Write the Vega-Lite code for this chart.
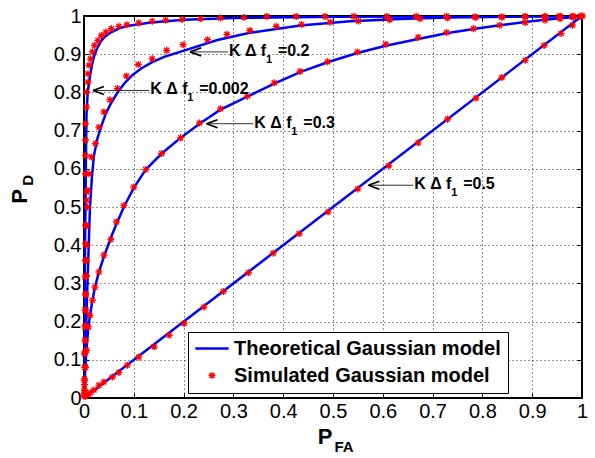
{
  "$schema": "https://vega.github.io/schema/vega-lite/v6.json",
  "width": 498,
  "height": 382,
  "autosize": "none",
  "padding": {"left": 84, "top": 16, "right": 13, "bottom": 60},
  "background": "white",
  "config": {
    "view": {"stroke": "black", "strokeWidth": 2},
    "font": "Liberation Sans"
  },
  "datasets": {
    "lines": [
      {"c": "0.002", "m": "Theoretical Gaussian model", "x": 0, "y": 0},
      {"c": "0.002", "m": "Theoretical Gaussian model", "x": 0.0005, "y": 0.1},
      {"c": "0.002", "m": "Theoretical Gaussian model", "x": 0.001, "y": 0.2},
      {"c": "0.002", "m": "Theoretical Gaussian model", "x": 0.0015, "y": 0.3},
      {"c": "0.002", "m": "Theoretical Gaussian model", "x": 0.002, "y": 0.4},
      {"c": "0.002", "m": "Theoretical Gaussian model", "x": 0.003, "y": 0.5},
      {"c": "0.002", "m": "Theoretical Gaussian model", "x": 0.004, "y": 0.64},
      {"c": "0.002", "m": "Theoretical Gaussian model", "x": 0.005, "y": 0.74},
      {"c": "0.002", "m": "Theoretical Gaussian model", "x": 0.0065, "y": 0.78},
      {"c": "0.002", "m": "Theoretical Gaussian model", "x": 0.008, "y": 0.805},
      {"c": "0.002", "m": "Theoretical Gaussian model", "x": 0.01, "y": 0.825},
      {"c": "0.002", "m": "Theoretical Gaussian model", "x": 0.013, "y": 0.85},
      {"c": "0.002", "m": "Theoretical Gaussian model", "x": 0.016, "y": 0.872},
      {"c": "0.002", "m": "Theoretical Gaussian model", "x": 0.02, "y": 0.893},
      {"c": "0.002", "m": "Theoretical Gaussian model", "x": 0.026, "y": 0.915},
      {"c": "0.002", "m": "Theoretical Gaussian model", "x": 0.034, "y": 0.934},
      {"c": "0.002", "m": "Theoretical Gaussian model", "x": 0.043, "y": 0.947},
      {"c": "0.002", "m": "Theoretical Gaussian model", "x": 0.054, "y": 0.957},
      {"c": "0.002", "m": "Theoretical Gaussian model", "x": 0.07, "y": 0.967},
      {"c": "0.002", "m": "Theoretical Gaussian model", "x": 0.087, "y": 0.974},
      {"c": "0.002", "m": "Theoretical Gaussian model", "x": 0.134, "y": 0.983},
      {"c": "0.002", "m": "Theoretical Gaussian model", "x": 0.201, "y": 0.990},
      {"c": "0.002", "m": "Theoretical Gaussian model", "x": 0.301, "y": 0.995},
      {"c": "0.002", "m": "Theoretical Gaussian model", "x": 0.5, "y": 0.998},
      {"c": "0.002", "m": "Theoretical Gaussian model", "x": 0.7, "y": 0.999},
      {"c": "0.002", "m": "Theoretical Gaussian model", "x": 1, "y": 1},
      {"c": "0.2", "m": "Theoretical Gaussian model", "x": 0, "y": 0},
      {"c": "0.2", "m": "Theoretical Gaussian model", "x": 0.003, "y": 0.13},
      {"c": "0.2", "m": "Theoretical Gaussian model", "x": 0.006, "y": 0.26},
      {"c": "0.2", "m": "Theoretical Gaussian model", "x": 0.009, "y": 0.38},
      {"c": "0.2", "m": "Theoretical Gaussian model", "x": 0.012, "y": 0.5},
      {"c": "0.2", "m": "Theoretical Gaussian model", "x": 0.016, "y": 0.58},
      {"c": "0.2", "m": "Theoretical Gaussian model", "x": 0.02, "y": 0.635},
      {"c": "0.2", "m": "Theoretical Gaussian model", "x": 0.027, "y": 0.68},
      {"c": "0.2", "m": "Theoretical Gaussian model", "x": 0.034, "y": 0.709},
      {"c": "0.2", "m": "Theoretical Gaussian model", "x": 0.044, "y": 0.745},
      {"c": "0.2", "m": "Theoretical Gaussian model", "x": 0.054, "y": 0.771},
      {"c": "0.2", "m": "Theoretical Gaussian model", "x": 0.067, "y": 0.799},
      {"c": "0.2", "m": "Theoretical Gaussian model", "x": 0.08, "y": 0.822},
      {"c": "0.2", "m": "Theoretical Gaussian model", "x": 0.097, "y": 0.845},
      {"c": "0.2", "m": "Theoretical Gaussian model", "x": 0.114, "y": 0.862},
      {"c": "0.2", "m": "Theoretical Gaussian model", "x": 0.137, "y": 0.879},
      {"c": "0.2", "m": "Theoretical Gaussian model", "x": 0.161, "y": 0.893},
      {"c": "0.2", "m": "Theoretical Gaussian model", "x": 0.207, "y": 0.912},
      {"c": "0.2", "m": "Theoretical Gaussian model", "x": 0.268, "y": 0.937},
      {"c": "0.2", "m": "Theoretical Gaussian model", "x": 0.333, "y": 0.956},
      {"c": "0.2", "m": "Theoretical Gaussian model", "x": 0.434, "y": 0.975},
      {"c": "0.2", "m": "Theoretical Gaussian model", "x": 0.534, "y": 0.986},
      {"c": "0.2", "m": "Theoretical Gaussian model", "x": 0.635, "y": 0.992},
      {"c": "0.2", "m": "Theoretical Gaussian model", "x": 0.728, "y": 0.996},
      {"c": "0.2", "m": "Theoretical Gaussian model", "x": 0.85, "y": 0.998},
      {"c": "0.2", "m": "Theoretical Gaussian model", "x": 1, "y": 1},
      {"c": "0.3", "m": "Theoretical Gaussian model", "x": 0, "y": 0},
      {"c": "0.3", "m": "Theoretical Gaussian model", "x": 0.002, "y": 0.06},
      {"c": "0.3", "m": "Theoretical Gaussian model", "x": 0.005, "y": 0.13},
      {"c": "0.3", "m": "Theoretical Gaussian model", "x": 0.009, "y": 0.186},
      {"c": "0.3", "m": "Theoretical Gaussian model", "x": 0.012, "y": 0.216},
      {"c": "0.3", "m": "Theoretical Gaussian model", "x": 0.017, "y": 0.256},
      {"c": "0.3", "m": "Theoretical Gaussian model", "x": 0.022, "y": 0.29},
      {"c": "0.3", "m": "Theoretical Gaussian model", "x": 0.03, "y": 0.33},
      {"c": "0.3", "m": "Theoretical Gaussian model", "x": 0.04, "y": 0.37},
      {"c": "0.3", "m": "Theoretical Gaussian model", "x": 0.054, "y": 0.42},
      {"c": "0.3", "m": "Theoretical Gaussian model", "x": 0.065, "y": 0.455},
      {"c": "0.3", "m": "Theoretical Gaussian model", "x": 0.08, "y": 0.5},
      {"c": "0.3", "m": "Theoretical Gaussian model", "x": 0.1, "y": 0.55},
      {"c": "0.3", "m": "Theoretical Gaussian model", "x": 0.124, "y": 0.598},
      {"c": "0.3", "m": "Theoretical Gaussian model", "x": 0.156, "y": 0.64},
      {"c": "0.3", "m": "Theoretical Gaussian model", "x": 0.194, "y": 0.681},
      {"c": "0.3", "m": "Theoretical Gaussian model", "x": 0.232, "y": 0.718},
      {"c": "0.3", "m": "Theoretical Gaussian model", "x": 0.274, "y": 0.755},
      {"c": "0.3", "m": "Theoretical Gaussian model", "x": 0.33, "y": 0.79},
      {"c": "0.3", "m": "Theoretical Gaussian model", "x": 0.382, "y": 0.823},
      {"c": "0.3", "m": "Theoretical Gaussian model", "x": 0.434, "y": 0.853},
      {"c": "0.3", "m": "Theoretical Gaussian model", "x": 0.489, "y": 0.879},
      {"c": "0.3", "m": "Theoretical Gaussian model", "x": 0.549, "y": 0.903},
      {"c": "0.3", "m": "Theoretical Gaussian model", "x": 0.606, "y": 0.922},
      {"c": "0.3", "m": "Theoretical Gaussian model", "x": 0.671, "y": 0.94},
      {"c": "0.3", "m": "Theoretical Gaussian model", "x": 0.728, "y": 0.955},
      {"c": "0.3", "m": "Theoretical Gaussian model", "x": 0.782, "y": 0.966},
      {"c": "0.3", "m": "Theoretical Gaussian model", "x": 0.835, "y": 0.976},
      {"c": "0.3", "m": "Theoretical Gaussian model", "x": 0.886, "y": 0.984},
      {"c": "0.3", "m": "Theoretical Gaussian model", "x": 0.926, "y": 0.99},
      {"c": "0.3", "m": "Theoretical Gaussian model", "x": 0.956, "y": 0.994},
      {"c": "0.3", "m": "Theoretical Gaussian model", "x": 0.983, "y": 0.997},
      {"c": "0.3", "m": "Theoretical Gaussian model", "x": 1, "y": 1},
      {"c": "0.5", "m": "Theoretical Gaussian model", "x": 0, "y": 0},
      {"c": "0.5", "m": "Theoretical Gaussian model", "x": 1, "y": 1}
    ],
    "sims": [
      {"c": "0.002", "m": "Simulated Gaussian model", "x": 0.0, "y": 0.005},
      {"c": "0.002", "m": "Simulated Gaussian model", "x": 0.001, "y": 0.02},
      {"c": "0.002", "m": "Simulated Gaussian model", "x": 0.001, "y": 0.046},
      {"c": "0.002", "m": "Simulated Gaussian model", "x": 0.002, "y": 0.081},
      {"c": "0.002", "m": "Simulated Gaussian model", "x": 0.001, "y": 0.116},
      {"c": "0.002", "m": "Simulated Gaussian model", "x": 0.002, "y": 0.151},
      {"c": "0.002", "m": "Simulated Gaussian model", "x": 0.002, "y": 0.186},
      {"c": "0.002", "m": "Simulated Gaussian model", "x": 0.002, "y": 0.23},
      {"c": "0.002", "m": "Simulated Gaussian model", "x": 0.003, "y": 0.273},
      {"c": "0.002", "m": "Simulated Gaussian model", "x": 0.002, "y": 0.317},
      {"c": "0.002", "m": "Simulated Gaussian model", "x": 0.003, "y": 0.36},
      {"c": "0.002", "m": "Simulated Gaussian model", "x": 0.003, "y": 0.404},
      {"c": "0.002", "m": "Simulated Gaussian model", "x": 0.003, "y": 0.452},
      {"c": "0.002", "m": "Simulated Gaussian model", "x": 0.005, "y": 0.518},
      {"c": "0.002", "m": "Simulated Gaussian model", "x": 0.005, "y": 0.539},
      {"c": "0.002", "m": "Simulated Gaussian model", "x": 0.003, "y": 0.587},
      {"c": "0.002", "m": "Simulated Gaussian model", "x": 0.003, "y": 0.635},
      {"c": "0.002", "m": "Simulated Gaussian model", "x": 0.003, "y": 0.675},
      {"c": "0.002", "m": "Simulated Gaussian model", "x": 0.003, "y": 0.718},
      {"c": "0.002", "m": "Simulated Gaussian model", "x": 0.005, "y": 0.762},
      {"c": "0.002", "m": "Simulated Gaussian model", "x": 0.005, "y": 0.801},
      {"c": "0.002", "m": "Simulated Gaussian model", "x": 0.008, "y": 0.827},
      {"c": "0.002", "m": "Simulated Gaussian model", "x": 0.008, "y": 0.849},
      {"c": "0.002", "m": "Simulated Gaussian model", "x": 0.01, "y": 0.871},
      {"c": "0.002", "m": "Simulated Gaussian model", "x": 0.013, "y": 0.888},
      {"c": "0.002", "m": "Simulated Gaussian model", "x": 0.017, "y": 0.906},
      {"c": "0.002", "m": "Simulated Gaussian model", "x": 0.021, "y": 0.923},
      {"c": "0.002", "m": "Simulated Gaussian model", "x": 0.028, "y": 0.936},
      {"c": "0.002", "m": "Simulated Gaussian model", "x": 0.035, "y": 0.949},
      {"c": "0.002", "m": "Simulated Gaussian model", "x": 0.044, "y": 0.958},
      {"c": "0.002", "m": "Simulated Gaussian model", "x": 0.055, "y": 0.967},
      {"c": "0.002", "m": "Simulated Gaussian model", "x": 0.07, "y": 0.973},
      {"c": "0.002", "m": "Simulated Gaussian model", "x": 0.086, "y": 0.977},
      {"c": "0.002", "m": "Simulated Gaussian model", "x": 0.11, "y": 0.982},
      {"c": "0.002", "m": "Simulated Gaussian model", "x": 0.137, "y": 0.986},
      {"c": "0.002", "m": "Simulated Gaussian model", "x": 0.164, "y": 0.989},
      {"c": "0.002", "m": "Simulated Gaussian model", "x": 0.197, "y": 0.991},
      {"c": "0.002", "m": "Simulated Gaussian model", "x": 0.234, "y": 0.993},
      {"c": "0.002", "m": "Simulated Gaussian model", "x": 0.274, "y": 0.995},
      {"c": "0.002", "m": "Simulated Gaussian model", "x": 0.321, "y": 0.996},
      {"c": "0.002", "m": "Simulated Gaussian model", "x": 0.367, "y": 0.999},
      {"c": "0.002", "m": "Simulated Gaussian model", "x": 0.426, "y": 0.999},
      {"c": "0.002", "m": "Simulated Gaussian model", "x": 0.484, "y": 0.999},
      {"c": "0.002", "m": "Simulated Gaussian model", "x": 0.542, "y": 0.999},
      {"c": "0.002", "m": "Simulated Gaussian model", "x": 0.608, "y": 0.999},
      {"c": "0.002", "m": "Simulated Gaussian model", "x": 0.667, "y": 0.999},
      {"c": "0.002", "m": "Simulated Gaussian model", "x": 0.728, "y": 0.999},
      {"c": "0.002", "m": "Simulated Gaussian model", "x": 0.785, "y": 0.998},
      {"c": "0.002", "m": "Simulated Gaussian model", "x": 0.839, "y": 0.998},
      {"c": "0.002", "m": "Simulated Gaussian model", "x": 0.886, "y": 0.999},
      {"c": "0.002", "m": "Simulated Gaussian model", "x": 0.926, "y": 0.999},
      {"c": "0.002", "m": "Simulated Gaussian model", "x": 0.954, "y": 0.999},
      {"c": "0.002", "m": "Simulated Gaussian model", "x": 0.981, "y": 0.999},
      {"c": "0.002", "m": "Simulated Gaussian model", "x": 0.996, "y": 0.999},
      {"c": "0.2", "m": "Simulated Gaussian model", "x": 0.001, "y": 0.02},
      {"c": "0.2", "m": "Simulated Gaussian model", "x": 0.001, "y": 0.05},
      {"c": "0.2", "m": "Simulated Gaussian model", "x": 0.002, "y": 0.08},
      {"c": "0.2", "m": "Simulated Gaussian model", "x": 0.002, "y": 0.12},
      {"c": "0.2", "m": "Simulated Gaussian model", "x": 0.003, "y": 0.15},
      {"c": "0.2", "m": "Simulated Gaussian model", "x": 0.003, "y": 0.19},
      {"c": "0.2", "m": "Simulated Gaussian model", "x": 0.004, "y": 0.23},
      {"c": "0.2", "m": "Simulated Gaussian model", "x": 0.004, "y": 0.27},
      {"c": "0.2", "m": "Simulated Gaussian model", "x": 0.005, "y": 0.32},
      {"c": "0.2", "m": "Simulated Gaussian model", "x": 0.005, "y": 0.36},
      {"c": "0.2", "m": "Simulated Gaussian model", "x": 0.006, "y": 0.40},
      {"c": "0.2", "m": "Simulated Gaussian model", "x": 0.006, "y": 0.45},
      {"c": "0.2", "m": "Simulated Gaussian model", "x": 0.007, "y": 0.50},
      {"c": "0.2", "m": "Simulated Gaussian model", "x": 0.008, "y": 0.544},
      {"c": "0.2", "m": "Simulated Gaussian model", "x": 0.01, "y": 0.587},
      {"c": "0.2", "m": "Simulated Gaussian model", "x": 0.015, "y": 0.631},
      {"c": "0.2", "m": "Simulated Gaussian model", "x": 0.023, "y": 0.666},
      {"c": "0.2", "m": "Simulated Gaussian model", "x": 0.03, "y": 0.709},
      {"c": "0.2", "m": "Simulated Gaussian model", "x": 0.04, "y": 0.749},
      {"c": "0.2", "m": "Simulated Gaussian model", "x": 0.052, "y": 0.781},
      {"c": "0.2", "m": "Simulated Gaussian model", "x": 0.067, "y": 0.81},
      {"c": "0.2", "m": "Simulated Gaussian model", "x": 0.085, "y": 0.843},
      {"c": "0.2", "m": "Simulated Gaussian model", "x": 0.109, "y": 0.873},
      {"c": "0.2", "m": "Simulated Gaussian model", "x": 0.137, "y": 0.888},
      {"c": "0.2", "m": "Simulated Gaussian model", "x": 0.166, "y": 0.91},
      {"c": "0.2", "m": "Simulated Gaussian model", "x": 0.199, "y": 0.925},
      {"c": "0.2", "m": "Simulated Gaussian model", "x": 0.248, "y": 0.938},
      {"c": "0.2", "m": "Simulated Gaussian model", "x": 0.287, "y": 0.952},
      {"c": "0.2", "m": "Simulated Gaussian model", "x": 0.333, "y": 0.962},
      {"c": "0.2", "m": "Simulated Gaussian model", "x": 0.386, "y": 0.973},
      {"c": "0.2", "m": "Simulated Gaussian model", "x": 0.437, "y": 0.978},
      {"c": "0.2", "m": "Simulated Gaussian model", "x": 0.494, "y": 0.984},
      {"c": "0.2", "m": "Simulated Gaussian model", "x": 0.551, "y": 0.987},
      {"c": "0.2", "m": "Simulated Gaussian model", "x": 0.614, "y": 0.99},
      {"c": "0.2", "m": "Simulated Gaussian model", "x": 0.675, "y": 0.993},
      {"c": "0.2", "m": "Simulated Gaussian model", "x": 0.73, "y": 0.995},
      {"c": "0.2", "m": "Simulated Gaussian model", "x": 0.787, "y": 0.996},
      {"c": "0.2", "m": "Simulated Gaussian model", "x": 0.839, "y": 0.997},
      {"c": "0.2", "m": "Simulated Gaussian model", "x": 0.886, "y": 0.998},
      {"c": "0.2", "m": "Simulated Gaussian model", "x": 0.925, "y": 0.998},
      {"c": "0.2", "m": "Simulated Gaussian model", "x": 0.957, "y": 0.999},
      {"c": "0.2", "m": "Simulated Gaussian model", "x": 0.982, "y": 0.999},
      {"c": "0.3", "m": "Simulated Gaussian model", "x": 0.0, "y": 0.01},
      {"c": "0.3", "m": "Simulated Gaussian model", "x": 0.001, "y": 0.035},
      {"c": "0.3", "m": "Simulated Gaussian model", "x": 0.003, "y": 0.08},
      {"c": "0.3", "m": "Simulated Gaussian model", "x": 0.005, "y": 0.125},
      {"c": "0.3", "m": "Simulated Gaussian model", "x": 0.009, "y": 0.186},
      {"c": "0.3", "m": "Simulated Gaussian model", "x": 0.012, "y": 0.216},
      {"c": "0.3", "m": "Simulated Gaussian model", "x": 0.017, "y": 0.256},
      {"c": "0.3", "m": "Simulated Gaussian model", "x": 0.022, "y": 0.29},
      {"c": "0.3", "m": "Simulated Gaussian model", "x": 0.03, "y": 0.33},
      {"c": "0.3", "m": "Simulated Gaussian model", "x": 0.04, "y": 0.374},
      {"c": "0.3", "m": "Simulated Gaussian model", "x": 0.054, "y": 0.415},
      {"c": "0.3", "m": "Simulated Gaussian model", "x": 0.065, "y": 0.461},
      {"c": "0.3", "m": "Simulated Gaussian model", "x": 0.08, "y": 0.504},
      {"c": "0.3", "m": "Simulated Gaussian model", "x": 0.1, "y": 0.552},
      {"c": "0.3", "m": "Simulated Gaussian model", "x": 0.124, "y": 0.598},
      {"c": "0.3", "m": "Simulated Gaussian model", "x": 0.156, "y": 0.64},
      {"c": "0.3", "m": "Simulated Gaussian model", "x": 0.194, "y": 0.681},
      {"c": "0.3", "m": "Simulated Gaussian model", "x": 0.232, "y": 0.72},
      {"c": "0.3", "m": "Simulated Gaussian model", "x": 0.274, "y": 0.757},
      {"c": "0.3", "m": "Simulated Gaussian model", "x": 0.328, "y": 0.79},
      {"c": "0.3", "m": "Simulated Gaussian model", "x": 0.382, "y": 0.825},
      {"c": "0.3", "m": "Simulated Gaussian model", "x": 0.434, "y": 0.855},
      {"c": "0.3", "m": "Simulated Gaussian model", "x": 0.489, "y": 0.88},
      {"c": "0.3", "m": "Simulated Gaussian model", "x": 0.549, "y": 0.906},
      {"c": "0.3", "m": "Simulated Gaussian model", "x": 0.606, "y": 0.926},
      {"c": "0.3", "m": "Simulated Gaussian model", "x": 0.671, "y": 0.944},
      {"c": "0.3", "m": "Simulated Gaussian model", "x": 0.728, "y": 0.957},
      {"c": "0.3", "m": "Simulated Gaussian model", "x": 0.782, "y": 0.967},
      {"c": "0.3", "m": "Simulated Gaussian model", "x": 0.835, "y": 0.976},
      {"c": "0.3", "m": "Simulated Gaussian model", "x": 0.886, "y": 0.983},
      {"c": "0.3", "m": "Simulated Gaussian model", "x": 0.926, "y": 0.989},
      {"c": "0.3", "m": "Simulated Gaussian model", "x": 0.956, "y": 0.993},
      {"c": "0.3", "m": "Simulated Gaussian model", "x": 0.983, "y": 0.997},
      {"c": "0.3", "m": "Simulated Gaussian model", "x": 1, "y": 1},
      {"c": "0.5", "m": "Simulated Gaussian model", "x": 0.003, "y": 0.004},
      {"c": "0.5", "m": "Simulated Gaussian model", "x": 0.008, "y": 0.009},
      {"c": "0.5", "m": "Simulated Gaussian model", "x": 0.013, "y": 0.014},
      {"c": "0.5", "m": "Simulated Gaussian model", "x": 0.02, "y": 0.021},
      {"c": "0.5", "m": "Simulated Gaussian model", "x": 0.03, "y": 0.033},
      {"c": "0.5", "m": "Simulated Gaussian model", "x": 0.04, "y": 0.042},
      {"c": "0.5", "m": "Simulated Gaussian model", "x": 0.057, "y": 0.055},
      {"c": "0.5", "m": "Simulated Gaussian model", "x": 0.07, "y": 0.067},
      {"c": "0.5", "m": "Simulated Gaussian model", "x": 0.087, "y": 0.086},
      {"c": "0.5", "m": "Simulated Gaussian model", "x": 0.11, "y": 0.107},
      {"c": "0.5", "m": "Simulated Gaussian model", "x": 0.141, "y": 0.134},
      {"c": "0.5", "m": "Simulated Gaussian model", "x": 0.171, "y": 0.164},
      {"c": "0.5", "m": "Simulated Gaussian model", "x": 0.201, "y": 0.195},
      {"c": "0.5", "m": "Simulated Gaussian model", "x": 0.241, "y": 0.238},
      {"c": "0.5", "m": "Simulated Gaussian model", "x": 0.28, "y": 0.279},
      {"c": "0.5", "m": "Simulated Gaussian model", "x": 0.33, "y": 0.328},
      {"c": "0.5", "m": "Simulated Gaussian model", "x": 0.38, "y": 0.379},
      {"c": "0.5", "m": "Simulated Gaussian model", "x": 0.432, "y": 0.43},
      {"c": "0.5", "m": "Simulated Gaussian model", "x": 0.49, "y": 0.487},
      {"c": "0.5", "m": "Simulated Gaussian model", "x": 0.55, "y": 0.547},
      {"c": "0.5", "m": "Simulated Gaussian model", "x": 0.612, "y": 0.608},
      {"c": "0.5", "m": "Simulated Gaussian model", "x": 0.671, "y": 0.668},
      {"c": "0.5", "m": "Simulated Gaussian model", "x": 0.73, "y": 0.73},
      {"c": "0.5", "m": "Simulated Gaussian model", "x": 0.787, "y": 0.785},
      {"c": "0.5", "m": "Simulated Gaussian model", "x": 0.839, "y": 0.839},
      {"c": "0.5", "m": "Simulated Gaussian model", "x": 0.886, "y": 0.884},
      {"c": "0.5", "m": "Simulated Gaussian model", "x": 0.924, "y": 0.923},
      {"c": "0.5", "m": "Simulated Gaussian model", "x": 0.958, "y": 0.954},
      {"c": "0.5", "m": "Simulated Gaussian model", "x": 0.981, "y": 0.976},
      {"c": "0.5", "m": "Simulated Gaussian model", "x": 1, "y": 1}
    ],
    "annot": [
      {"lab": "=0.002", "tx": 0.018, "ty": 0.805, "ax": 0.131},
      {"lab": "=0.2", "tx": 0.213, "ty": 0.906, "ax": 0.289},
      {"lab": "=0.3", "tx": 0.246, "ty": 0.718, "ax": 0.34},
      {"lab": "=0.5", "tx": 0.571, "ty": 0.557, "ax": 0.661}
    ],
    "xtitle": [
      {"t": "P", "x": 0.484, "y": -0.103, "s": "main"},
      {"t": "FA", "x": 0.522, "y": -0.127, "s": "sub"}
    ],
    "ytitle": [
      {"t": "P", "x": -0.1285, "y": 0.528, "s": "main"},
      {"t": "D", "x": -0.112, "y": 0.57, "s": "sub"}
    ]
  },
  "resolve": {"axis": {"x": "independent", "y": "independent"}},
  "layer": [
    {
      "data": {"name": "lines"},
      "mark": {"type": "line", "strokeWidth": 2.5, "clip": true},
      "encoding": {
        "x": {"field": "x", "type": "quantitative",
          "scale": {"domain": [0, 1], "nice": false, "zero": false},
          "axis": {"orient": "bottom", "title": null, "values": [0, 0.1, 0.2, 0.3, 0.4, 0.5, 0.6, 0.7, 0.8, 0.9, 1], "format": "~g",
            "grid": true, "gridColor": "black", "gridDash": [1, 3], "gridOpacity": 0.85, "gridWidth": 1,
            "domain": false, "ticks": true, "tickSize": -5, "tickColor": "black", "tickWidth": 1,
            "labelFont": "Liberation Sans", "labelFontSize": 20, "labelColor": "black", "labelPadding": 8, "labelFlush": false}},
        "y": {"field": "y", "type": "quantitative",
          "scale": {"domain": [0, 1], "nice": false, "zero": false},
          "axis": {"orient": "left", "title": null, "values": [0, 0.1, 0.2, 0.3, 0.4, 0.5, 0.6, 0.7, 0.8, 0.9, 1], "format": "~g",
            "grid": true, "gridColor": "black", "gridDash": [1, 3], "gridOpacity": 0.85, "gridWidth": 1,
            "domain": false, "ticks": true, "tickSize": -5, "tickColor": "black", "tickWidth": 1,
            "labelFont": "Liberation Sans", "labelFontSize": 20, "labelColor": "black", "labelPadding": 8, "labelFlush": false}},
        "detail": {"field": "c"},
        "color": {"field": "m", "type": "nominal",
          "scale": {"domain": ["Theoretical Gaussian model", "Simulated Gaussian model"], "range": ["#0000ff", "#ff0000"]},
          "legend": {"title": null, "orient": "none", "legendX": 104, "legendY": 316,
            "padding": 7, "strokeColor": "black", "fillColor": "white",
            "labelFont": "Liberation Sans", "labelFontSize": 20, "labelFontWeight": "bold", "labelColor": "black",
            "labelLimit": 400, "labelOffset": 5, "symbolSize": 1024, "clipHeight": 19, "rowPadding": 6,
            "symbolStrokeWidth": 1.3}}
      }
    },
    {
      "data": {"name": "sims"},
      "mark": {"type": "point", "filled": false, "strokeWidth": 1.3, "opacity": 1, "size": 1024},
      "encoding": {
        "x": {"field": "x", "type": "quantitative",
          "axis": {"orient": "top", "title": null, "labels": false, "grid": false, "domain": false,
            "values": [0, 0.1, 0.2, 0.3, 0.4, 0.5, 0.6, 0.7, 0.8, 0.9, 1], "tickSize": -5, "tickColor": "black", "tickWidth": 1}},
        "y": {"field": "y", "type": "quantitative",
          "axis": {"orient": "right", "title": null, "labels": false, "grid": false, "domain": false,
            "values": [0, 0.1, 0.2, 0.3, 0.4, 0.5, 0.6, 0.7, 0.8, 0.9, 1], "tickSize": -5, "tickColor": "black", "tickWidth": 1}},
        "color": {"field": "m", "type": "nominal"},
        "shape": {"field": "m", "type": "nominal",
          "scale": {"domain": ["Theoretical Gaussian model", "Simulated Gaussian model"],
            "range": ["M -1 -0.04 L 1 -0.04 L 1 0.04 L -1 0.04 Z", "M -0.22 0 L 0.22 0 M 0 -0.22 L 0 0.22 M -0.16 -0.16 L 0.16 0.16 M -0.16 0.16 L 0.16 -0.16"]}}
      }
    },
    {
      "data": {"name": "annot"},
      "mark": {"type": "rule", "color": "#333333", "strokeWidth": 1},
      "encoding": {
        "x": {"field": "tx", "type": "quantitative", "axis": null},
        "x2": {"field": "ax"},
        "y": {"field": "ty", "type": "quantitative", "axis": null}
      }
    },
    {
      "data": {"name": "annot"},
      "mark": {"type": "point", "shape": "M 0 0 L 2.75 -1 M 0 0 L 2.75 1", "size": 64, "filled": false, "stroke": "black", "strokeWidth": 1.8, "opacity": 1},
      "encoding": {
        "x": {"field": "tx", "type": "quantitative", "axis": null},
        "y": {"field": "ty", "type": "quantitative", "axis": null}
      }
    },
    {
      "data": {"name": "annot"},
      "mark": {"type": "text", "text": "K Δ f", "align": "left", "baseline": "alphabetic", "dx": 1, "dy": 4, "font": "Liberation Sans", "fontSize": 16, "fontWeight": "bold", "color": "black"},
      "encoding": {
        "x": {"field": "ax", "type": "quantitative", "axis": null},
        "y": {"field": "ty", "type": "quantitative", "axis": null}
      }
    },
    {
      "data": {"name": "annot"},
      "mark": {"type": "text", "text": "1", "align": "left", "baseline": "alphabetic", "dx": 38, "dy": 11, "font": "Liberation Sans", "fontSize": 11, "fontWeight": "bold", "color": "black"},
      "encoding": {
        "x": {"field": "ax", "type": "quantitative", "axis": null},
        "y": {"field": "ty", "type": "quantitative", "axis": null}
      }
    },
    {
      "data": {"name": "annot"},
      "mark": {"type": "text", "align": "left", "baseline": "alphabetic", "dx": 50, "dy": 4, "font": "Liberation Sans", "fontSize": 16, "fontWeight": "bold", "color": "black"},
      "encoding": {
        "x": {"field": "ax", "type": "quantitative", "axis": null},
        "y": {"field": "ty", "type": "quantitative", "axis": null},
        "text": {"field": "lab"}
      }
    },
    {
      "data": {"name": "xtitle"},
      "mark": {"type": "text", "align": "center", "baseline": "middle", "font": "Liberation Sans", "fontWeight": "bold", "color": "black"},
      "encoding": {
        "x": {"field": "x", "type": "quantitative", "axis": null},
        "y": {"field": "y", "type": "quantitative", "axis": null},
        "text": {"field": "t"},
        "size": {"field": "s", "type": "nominal", "scale": {"domain": ["main", "sub"], "range": [22, 15]}, "legend": null}
      }
    },
    {
      "data": {"name": "ytitle"},
      "mark": {"type": "text", "align": "center", "baseline": "middle", "angle": 270, "font": "Liberation Sans", "fontWeight": "bold", "color": "black"},
      "encoding": {
        "x": {"field": "x", "type": "quantitative", "axis": null},
        "y": {"field": "y", "type": "quantitative", "axis": null},
        "text": {"field": "t"},
        "size": {"field": "s", "type": "nominal", "scale": {"domain": ["main", "sub"], "range": [22, 15]}, "legend": null}
      }
    }
  ]
}
